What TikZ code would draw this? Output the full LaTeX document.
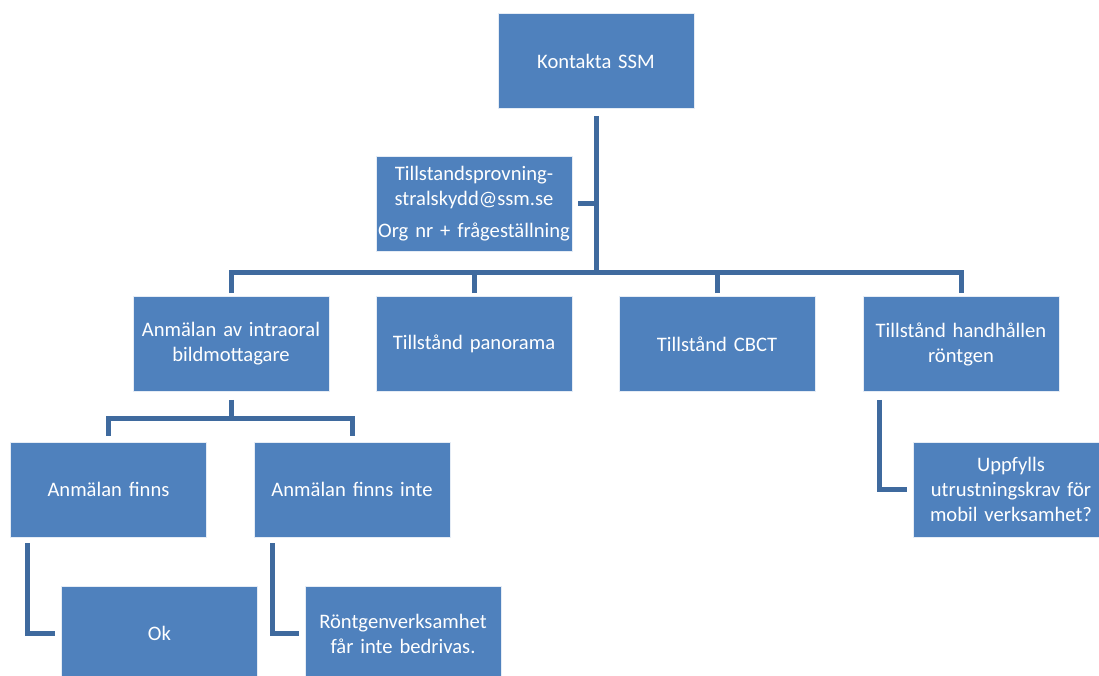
\documentclass[tikz,border=0pt]{standalone}
\usepackage{fontspec}
\setmainfont{Carlito}
\definecolor{boxfill}{RGB}{79,129,189}
\definecolor{conncol}{RGB}{63,106,158}
\begin{document}
\begin{tikzpicture}[x=1pt,y=-1pt,
  box/.style={rectangle, fill=boxfill, draw=white!85!boxfill, line width=0.8pt,
    minimum width=196pt, minimum height=95pt, inner sep=2pt, text width=192pt,
    align=center, text=white, font=\fontsize{20.6}{25}\selectfont},
  conn/.style={draw=conncol, line width=5pt, line join=miter}]
\useasboundingbox (0,0) rectangle (1099,675);
\clip (0,0) rectangle (1099,675);
\node[box] (root) at (596,61) {Kontakta SSM};
\node[box] (asst) at (474,203.5) {Tillstandsprovning-\\stralskydd@ssm.se\\[7pt]Org nr + frågeställning};
\node[box] (b1) at (231,344) {Anmälan av intraoral\\bildmottagare};
\node[box] (b2) at (474,344) {Tillstånd panorama};
\node[box] (b3) at (717,344) {Tillstånd CBCT};
\node[box] (b4) at (961,344) {Tillstånd handhållen\\röntgen};
\node[box] (c1) at (108.5,489.5) {Anmälan finns};
\node[box] (c2) at (352,489.5) {Anmälan finns inte};
\node[box] (ok) at (159.5,633.5) {Ok};
\node[box] (rv) at (403,633.5) {Röntgenverksamhet\\får inte bedrivas.};
\node[box] (up) at (1011,489.5) {Uppfylls\\utrustningskrav för\\mobil verksamhet?};
\coordinate (busy) at (0,272);
\coordinate (subbus) at (0,418);
% trunk
\draw[conn] ([yshift=-7pt]root.south) -- ([yshift=-2.5pt]root.south |- busy);
\draw[conn] ([xshift=6pt]asst.east) -- (asst.east -| root.south);
\draw[conn] ([yshift=3pt]b1.north) -- (b1.north |- busy) -- (b4.north |- busy) -- ([yshift=3pt]b4.north);
\draw[conn] ([yshift=3pt]b2.north) -- (b2.north |- busy);
\draw[conn] ([yshift=3pt]b3.north) -- (b3.north |- busy);
% sub branch
\draw[conn] ([yshift=-8pt]b1.south) -- (b1.south |- subbus);
\draw[conn] ([yshift=6pt]c1.north) -- (c1.north |- subbus) -- (c2.north |- subbus) -- ([yshift=6pt]c2.north);
% L connectors
\draw[conn] ([xshift=17pt,yshift=-6pt]c1.south west) |- ([xshift=-6pt]ok.west);
\draw[conn] ([xshift=19pt,yshift=-6pt]c2.south west) |- ([xshift=-6pt]rv.west);
\draw[conn] ([xshift=17pt,yshift=-8pt]b4.south west) |- ([xshift=-6pt]up.west);
\end{tikzpicture}
\end{document}
